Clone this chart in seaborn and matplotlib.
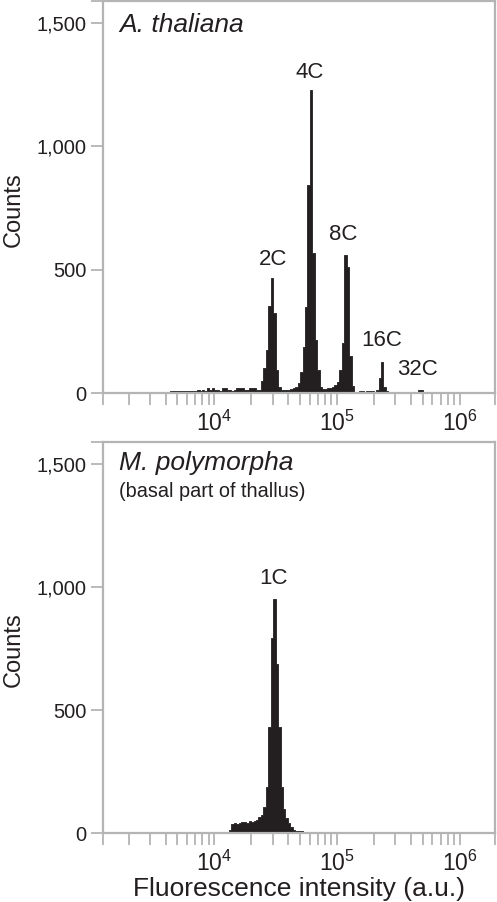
import numpy as np
import pandas as pd
import matplotlib
matplotlib.use("Agg")
import matplotlib.pyplot as plt
import seaborn as sns

# flow cytometry channels: log10 of the first bin edge and bin width (log units)
bin_start = 3.6
bin_width = 0.02

# counts per channel, first value belongs to the bin starting at bin_start
thal_counts = [0, 0, 8, 8, 8, 10, 8, 8, 10, 10,
               8, 10, 10, 12, 10, 12, 10, 20, 12, 22,
               12, 12, 10, 20, 22, 12, 12, 10, 12, 20,
               22, 20, 12, 12, 20, 22, 22, 12, 15, 51,
               103, 176, 354, 467, 325, 95, 27, 15, 12, 15,
               14, 18, 20, 25, 40, 88, 189, 351, 844, 1229,
               567, 216, 94, 27, 18, 18, 20, 22, 27, 35,
               47, 94, 204, 561, 513, 150, 30, 0, 0, 8,
               8, 0, 8, 8, 8, 0, 15, 61, 128, 25,
               8, 0, 0, 0, 0, 0, 0, 0, 0, 0,
               0, 0, 0, 12, 12]
poly_counts = [0] * 26 + [12, 38, 40, 38, 42, 47, 45, 40, 50, 44,
                          48, 55, 67, 75, 108, 189, 432, 794, 953, 689,
                          432, 189, 100, 60, 40, 25, 15, 10, 8, 8,
                          6, 6, 6, 6, 6, 6]

thal_peaks = ["2C", "4C", "8C", "16C", "32C"]
thal_peak_x = [3.02e4, 6.0e4, 1.13e5, 2.34e5, 4.56e5]
thal_peak_y = [543, 1300, 642, 212, 97]
poly_peaks = ["1C"]
poly_peak_x = [3.05e4]
poly_peak_y = [1034]

y_ticks = [0, 500, 1000, 1500]
y_labels = ["0", "500", "1,000", "1,500"]
x_major = [1e4, 1e5, 1e6]
x_labels = [r"$\mathregular{10^{4}}$", r"$\mathregular{10^{5}}$", r"$\mathregular{10^{6}}$"]

ink = "#231f20"
frame = "#b4b4b4"
xlo, xhi = 1243, 1.95e6
ytop = 1590

sns.set_theme(style="ticks")
plt.rcParams["font.family"] = ["Liberation Sans", "DejaVu Sans"]
plt.rcParams["mathtext.fontset"] = "custom"
plt.rcParams["mathtext.rm"] = "Liberation Sans"
plt.rcParams["text.color"] = ink


def to_frame(counts):
    idx = np.arange(len(counts))
    return pd.DataFrame({"fl": 10 ** (bin_start + bin_width * (idx + 0.5)), "n": counts})


fig = plt.figure(figsize=(4.97, 9.02), dpi=100)
ax1 = fig.add_axes([0.2078, 0.5640, 0.7883, 0.4350])
ax2 = fig.add_axes([0.2078, 0.0762, 0.7883, 0.4341])

minor = [xlo] + [m * 10 ** e for e in (3, 4, 5) for m in range(2, 10)] + [xhi]

panels = [(ax1, thal_counts, thal_peaks, thal_peak_x, thal_peak_y),
          (ax2, poly_counts, poly_peaks, poly_peak_x, poly_peak_y)]
for ax, counts, peaks, px, py in panels:
    df = to_frame(counts)
    hi = bin_start + bin_width * len(counts)
    sns.histplot(data=df, x="fl", weights="n", log_scale=True,
                 binwidth=bin_width, binrange=(bin_start, hi),
                 element="step", fill=True, color=ink, alpha=1,
                 linewidth=0.6, edgecolor=ink, ax=ax)
    for lab, x, y in zip(peaks, px, py):
        ax.text(x, y, lab, ha="center", va="center", fontsize=16, color=ink)

    ax.set_xlim(xlo, xhi)
    ax.set_ylim(0, ytop)
    ax.set_xticks(x_major, x_labels)
    ax.set_xticks(minor, minor=True)
    ax.set_xticklabels([], minor=True)
    ax.set_yticks(y_ticks + [ytop], y_labels + [""])
    ax.tick_params(axis="both", which="both", direction="out", color=frame,
                   width=1.3, labelcolor=ink)
    ax.tick_params(axis="x", which="both", length=8.5, pad=4, labelsize=16.5)
    ax.tick_params(axis="y", length=9, pad=3, labelsize=14.5)
    for s in ax.spines.values():
        s.set_color(frame)
        s.set_linewidth(1.6)
    ax.set_ylabel("Counts", fontsize=17, color=ink)
    ax.yaxis.set_label_coords(-0.2, 0.469)
    ax.set_xlabel("")

ax1.text(0.04, 0.9217, "A. thaliana", transform=ax1.transAxes,
         fontsize=19, style="italic", va="baseline", color=ink)
ax2.text(0.04, 0.9277, "M. polymorpha", transform=ax2.transAxes,
         fontsize=19, style="italic", va="baseline", color=ink)
ax2.text(0.04, 0.8588, "(basal part of thallus)", transform=ax2.transAxes,
         fontsize=14.3, va="baseline", color=ink)
ax2.set_xlabel("Fluorescence intensity (a.u.)", fontsize=19, color=ink, labelpad=1)

fig.savefig("out.png", dpi=100)
